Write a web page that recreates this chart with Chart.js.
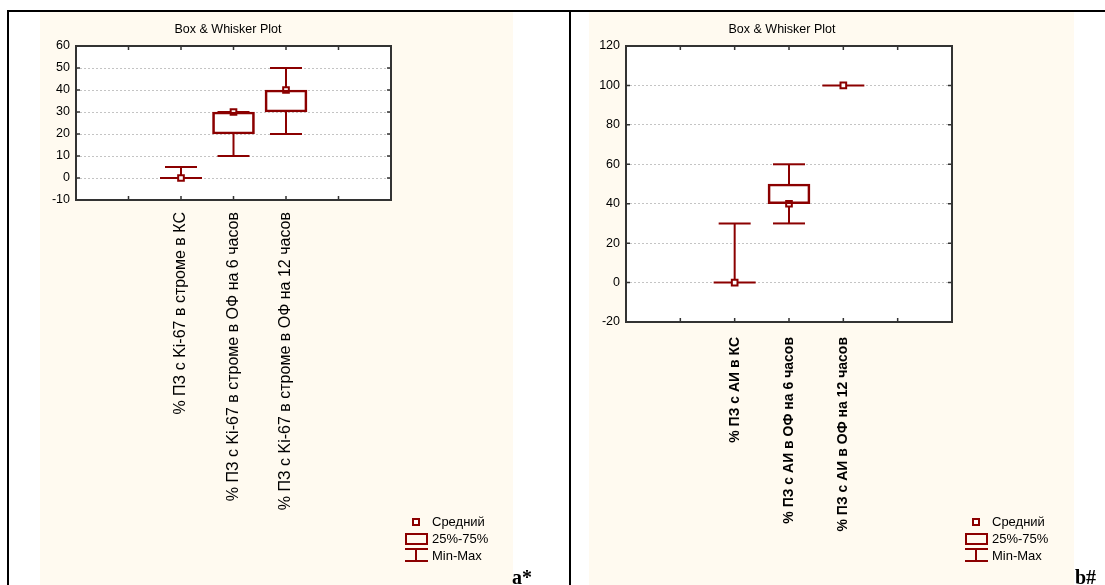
<!DOCTYPE html>
<html>
<head>
<meta charset="utf-8">
<script src="https://cdn.jsdelivr.net/npm/chart.js@4.4.1/dist/chart.umd.min.js"></script>
<style>
  html, body { margin: 0; padding: 0; background: #fff; }
  body { width: 1105px; height: 585px; position: relative; overflow: hidden; font-family: "Liberation Sans", Arial, sans-serif; }
  .rule { position: absolute; background: #000; }
  .panel { position: absolute; top: 12px; height: 573px; background: #fffaf0; }
  .panel canvas { position: absolute; left: 0; top: 0; }
  .legend { position: absolute; width: 100px; height: 52px; font-size: 13px; color: #000; }
  .legend div { position: absolute; box-sizing: border-box; }
  .legend .mean { left: 7px; top: 4px; width: 8px; height: 8px; border: 2px solid #8b0000; background: #fff; }
  .legend .box { left: 0; top: 19px; width: 23px; height: 12px; border: 2px solid #8b0000; }
  .legend .cap1 { left: 0; top: 34px; width: 23px; height: 2px; background: #8b0000; }
  .legend .stem { left: 10px; top: 34px; width: 2px; height: 14px; background: #8b0000; }
  .legend .cap2 { left: 0; top: 46px; width: 23px; height: 2px; background: #8b0000; }
  .legend span { position: absolute; left: 27px; line-height: 15px; white-space: nowrap; }
  .mark { position: absolute; top: 566px; font: bold 20px "Liberation Serif", "Times New Roman", serif; color: #000; }
</style>
</head>
<body>
<div class="rule" style="left:7px; top:10px; width:1098px; height:2px;"></div>
<div class="rule" style="left:7px; top:10px; width:2px; height:575px;"></div>
<div class="rule" style="left:569px; top:10px; width:2px; height:575px;"></div>

<div class="panel" style="left:40px; width:473px;"><canvas id="chartA" width="473" height="573"></canvas></div>
<div class="panel" style="left:589px; width:485px;"><canvas id="chartB" width="485" height="573"></canvas></div>

<div class="legend" style="left:405px; top:514px;">
  <div class="mean"></div><span style="top:0;">Средний</span>
  <div class="box"></div><span style="top:17px;">25%-75%</span>
  <div class="cap1"></div><div class="stem"></div><div class="cap2"></div><span style="top:34px;">Min-Max</span>
</div>
<div class="legend" style="left:965px; top:514px;">
  <div class="mean"></div><span style="top:0;">Средний</span>
  <div class="box"></div><span style="top:17px;">25%-75%</span>
  <div class="cap1"></div><div class="stem"></div><div class="cap2"></div><span style="top:34px;">Min-Max</span>
</div>

<div class="mark" style="left:512px;">a*</div>
<div class="mark" style="left:1075px;">b#</div>

<script>
// панель a: Ki-67 в строме
const catsA = ['% ПЗ с Ki-67 в строме в КС', '% ПЗ с Ki-67 в строме в ОФ на 6 часов', '% ПЗ с Ki-67 в строме в ОФ на 12 часов'];
const minA = [0, 10, 20];
const q1A = [0, 20, 30];
const q3A = [0, 30, 40];
const maxA = [5, 30, 50];
const meanA = [0, 30, 40];
const ticksA = [-10, 0, 10, 20, 30, 40, 50, 60];

// панель b: АИ
const catsB = ['% ПЗ с АИ в КС', '% ПЗ с АИ в ОФ на 6 часов', '% ПЗ с АИ в ОФ на 12 часов'];
const minB = [0, 30, 100];
const q1B = [0, 40, 100];
const q3B = [0, 50, 100];
const maxB = [30, 60, 100];
const meanB = [0, 40, 100];
const ticksB = [-20, 0, 20, 40, 60, 80, 100, 120];

const RED = '#8b0000';
Chart.defaults.font.family = '"Liberation Sans", Arial, sans-serif';
Chart.defaults.color = '#000';

// two empty slots each side, like the Statistica axis
const pad = arr => [null, null, ...arr, null, null];

function whiskers(mn, q1, q3, mx) {
  return {
    id: 'whiskers',
    beforeDraw(chart) {
      const a = chart.chartArea, ctx = chart.ctx;
      ctx.save();
      ctx.fillStyle = '#fff';
      ctx.fillRect(a.left, a.top, a.right - a.left, a.bottom - a.top);
      ctx.restore();
    },
    beforeDatasetsDraw(chart) {
      const {ctx, scales: {x, y}} = chart;
      const capW = 32, boxW = 42;
      ctx.save();
      ctx.strokeStyle = RED;
      ctx.lineWidth = 2;
      const hline = (px, py, w) => { ctx.beginPath(); ctx.moveTo(px - w / 2, py); ctx.lineTo(px + w / 2, py); ctx.stroke(); };
      mn.forEach((v, i) => {
        const px = x.getPixelForValue(i + 2);
        const yMin = y.getPixelForValue(v), yQ1 = y.getPixelForValue(q1[i]);
        const yQ3 = y.getPixelForValue(q3[i]), yMax = y.getPixelForValue(mx[i]);
        ctx.beginPath();
        ctx.moveTo(px, yMax); ctx.lineTo(px, yQ3);
        ctx.moveTo(px, yQ1); ctx.lineTo(px, yMin);
        ctx.stroke();
        if (q1[i] === q3[i]) hline(px, yQ1, boxW);
        if (mx[i] !== q3[i] || q1[i] !== q3[i]) hline(px, yMax, capW);
        if (v !== q1[i]) hline(px, yMin, capW);
      });
      ctx.restore();
    },
    afterDatasetsDraw(chart) {
      const {ctx, chartArea: a, scales: {x, y}} = chart;
      ctx.save();
      ctx.strokeStyle = '#333';
      ctx.lineWidth = 1.5;
      ctx.beginPath();
      y.ticks.forEach(t => {
        const py = y.getPixelForValue(t.value);
        ctx.moveTo(a.left, py); ctx.lineTo(a.left + 4, py);
        ctx.moveTo(a.right, py); ctx.lineTo(a.right - 4, py);
      });
      for (let i = 1; i < x.ticks.length - 1; i++) {
        const px = x.getPixelForValue(i);
        ctx.moveTo(px, a.top); ctx.lineTo(px, a.top + 4);
        ctx.moveTo(px, a.bottom); ctx.lineTo(px, a.bottom - 4);
      }
      ctx.stroke();
      ctx.lineWidth = 2;
      ctx.strokeRect(a.left, a.top, a.right - a.left, a.bottom - a.top);
      ctx.restore();
    }
  };
}

function boxChart(id, cats, mn, q1, q3, mx, mean, ticks, opt) {
  return new Chart(document.getElementById(id), {
    type: 'bar',
    data: {
      labels: pad(cats).map(c => c || ''),
      datasets: [
        {
          type: 'bar',
          data: pad(q1.map((v, i) => [v, q3[i]])),
          backgroundColor: 'rgba(255,255,255,0)',
          borderColor: RED,
          borderWidth: 2,
          borderSkipped: false,
          barThickness: 42,
          grouped: false
        },
        {
          type: 'line',
          data: pad(mean),
          showLine: false,
          pointStyle: 'rect',
          pointRadius: 4,
          pointBorderWidth: 2,
          pointBorderColor: RED,
          pointBackgroundColor: '#fff'
        }
      ]
    },
    options: {
      responsive: false,
      animation: false,
      events: [],
      layout: { padding: { left: 0, top: 0, right: opt.padRight, bottom: 0 } },
      plugins: {
        legend: { display: false },
        tooltip: { enabled: false },
        title: {
          display: true,
          text: 'Box & Whisker Plot',
          font: { size: 12.5, weight: 'normal' },
          color: '#000',
          padding: { top: 10.5, bottom: 8.5 }
        }
      },
      scales: {
        x: {
          type: 'category',
          offset: false,
          grid: { display: false, drawTicks: false },
          border: { display: false },
          ticks: {
            autoSkip: false,
            minRotation: 90,
            maxRotation: 90,
            padding: opt.labelPad,
            font: { size: opt.labelSize, weight: opt.labelWeight },
            color: '#000'
          },
          afterFit: s => { s.height = opt.xHeight; }
        },
        y: {
          min: ticks[0],
          max: ticks[ticks.length - 1],
          afterBuildTicks: s => { s.ticks = ticks.map(v => ({ value: v })); },
          grid: { color: '#c4c4c4', lineWidth: 1, drawTicks: false },
          border: { display: false, dash: [2, 2] },
          ticks: { padding: 6, font: { size: 12.5 }, color: '#000' },
          afterFit: s => { s.width = opt.yWidth; }
        },
        // empty right-hand strip between the plot frame and the legend column
        yr: {
          position: 'right',
          grid: { display: false, drawTicks: false },
          border: { display: false },
          ticks: { display: false },
          afterFit: s => { s.width = opt.rightGap; }
        }
      }
    },
    plugins: [whiskers(mn, q1, q3, mx)]
  });
}

boxChart('chartA', catsA, minA, q1A, q3A, maxA, meanA, ticksA,
  { yWidth: 36, padRight: 97, rightGap: 25, xHeight: 385, labelPad: 12, labelSize: 16, labelWeight: 'normal' });
boxChart('chartB', catsB, minB, q1B, q3B, maxB, meanB, ticksB,
  { yWidth: 37, padRight: 99, rightGap: 23, xHeight: 263, labelPad: 15, labelSize: 14, labelWeight: 'bold' });
</script>
</body>
</html>
